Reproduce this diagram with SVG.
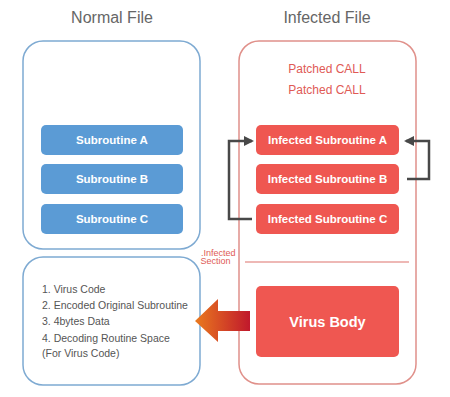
<svg xmlns="http://www.w3.org/2000/svg" width="450" height="397" viewBox="0 0 450 397">
<defs>
<style>
.title{font-family:"Liberation Sans",Arial,sans-serif;font-size:16px;fill:#666;text-anchor:middle}
.frameB{fill:#fff;stroke:#7eaad2;stroke-width:1.5}
.frameR{fill:#fff;stroke:#e0908a;stroke-width:1.5}
.blue{fill:#5b9bd5}
.red{fill:#ef5751}
.lbl{font-family:"Liberation Sans",Arial,sans-serif;font-size:11.5px;font-weight:bold;fill:#fff;text-anchor:middle}
.patch{font-family:"Liberation Sans",Arial,sans-serif;font-size:12px;fill:#e05a55;text-anchor:middle}
.sec{font-family:"Liberation Sans",Arial,sans-serif;font-size:9px;fill:#e05a55}
.list{font-family:"Liberation Sans",Arial,sans-serif;font-size:10.5px;fill:#555}
.conn{fill:none;stroke:#484848;stroke-width:2.5}
</style>
<marker id="ah" viewBox="0 0 10 10" refX="8" refY="5" markerWidth="4" markerHeight="4" orient="auto" markerUnits="strokeWidth">
<path d="M0,0 L10,5 L0,10 z" fill="#484848"/>
</marker>
<linearGradient id="g" x1="0" y1="0" x2="1" y2="0">
<stop offset="0" stop-color="#ea7a1e"/>
<stop offset="1" stop-color="#c0182c"/>
</linearGradient>
</defs>
<rect width="450" height="397" fill="#fff"/>
<text class="title" x="112" y="23">Normal File</text>
<text class="title" x="327" y="23">Infected File</text>

<g id="normal-file"><rect class="frameB" x="23" y="41" width="177" height="208" rx="20"/></g>
<g id="infected-file"><rect class="frameR" x="239" y="41" width="177" height="343" rx="20"/></g>
<g id="virus-section"><rect class="frameB" x="23" y="257" width="177" height="128" rx="20"/>
<text class="list" x="42" y="293">1. Virus Code</text>
<text class="list" x="42" y="309">2. Encoded Original Subroutine</text>
<text class="list" x="42" y="325">3. 4bytes Data</text>
<text class="list" x="42" y="342">4. Decoding Routine Space</text>
<text class="list" x="42" y="357">(For Virus Code)</text>
</g>

<g id="patched"><text class="patch" x="327" y="73">Patched CALL</text><text class="patch" x="327" y="94">Patched CALL</text></g>

<g id="sub-a"><rect class="blue" x="41" y="125" width="142" height="30" rx="5"/><text class="lbl" x="112" y="144">Subroutine A</text></g>
<g id="sub-b"><rect class="blue" x="41" y="164" width="142" height="30" rx="5"/><text class="lbl" x="112" y="183">Subroutine B</text></g>
<g id="sub-c"><rect class="blue" x="41" y="204" width="142" height="30" rx="5"/><text class="lbl" x="112" y="223">Subroutine C</text></g>

<g id="inf-a"><rect class="red" x="256" y="125" width="143" height="30" rx="5"/><text class="lbl" x="327.5" y="144">Infected Subroutine A</text></g>
<g id="inf-b"><rect class="red" x="256" y="164" width="143" height="30" rx="5"/><text class="lbl" x="327.5" y="183">Infected Subroutine B</text></g>
<g id="inf-c"><rect class="red" x="256" y="204" width="143" height="30" rx="5"/><text class="lbl" x="327.5" y="223">Infected Subroutine C</text></g>

<g id="section-label"><text class="sec" x="201" y="255.5">.Infected</text><text class="sec" x="200.5" y="264">Section</text>
<line x1="245" y1="262" x2="409" y2="262" stroke="#e8a09c" stroke-width="1.5"/></g>

<g id="virus-body"><rect class="red" x="256" y="286" width="143" height="71" rx="5"/>
<text x="327.5" y="327" font-family="Liberation Sans,Arial,sans-serif" font-size="14.5" font-weight="bold" fill="#fff" text-anchor="middle">Virus Body</text></g>

<g id="connectors">
<polyline class="conn" points="252,219 229,219 229,141 252,141" marker-end="url(#ah)"/>
<polyline class="conn" points="407,179 429,179 429,141 406,141" marker-end="url(#ah)"/>
<path d="M250,311 L218,311 L218,299 L195,321 L218,342 L218,331 L250,331 Z" fill="url(#g)"/>
</g>
</svg>
